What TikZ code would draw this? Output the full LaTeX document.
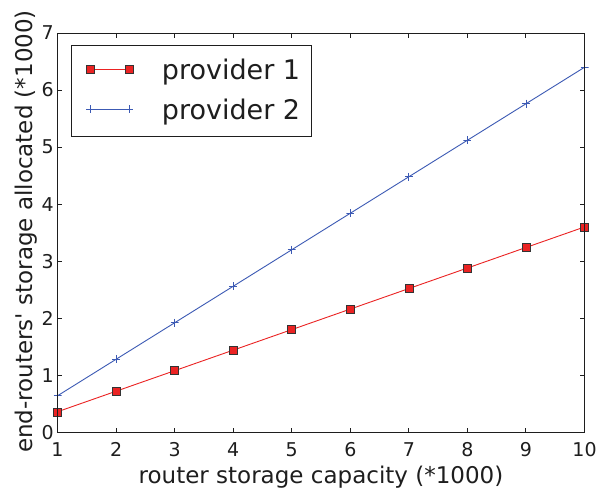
\documentclass[tikz,border=0pt]{standalone}
\usepackage{fontspec}
\newfontfamily\dvs{DejaVu Sans}
\definecolor{pred}{RGB}{235,35,35}
\definecolor{pblue}{RGB}{60,90,180}
\definecolor{axcol}{RGB}{30,30,30}
\tikzset{
  axisline/.style={draw=axcol, line width=1pt},
  ticklab/.style={inner sep=0pt, font=\dvs\fontsize{19}{22}\selectfont, text=axcol},
  axlab/.style={inner sep=0pt, font=\dvs\fontsize{23}{27}\selectfont, text=axcol},
  leglab/.style={inner sep=0pt, font=\dvs\fontsize{27}{32}\selectfont, text=axcol, anchor=base west},
  sqmark/.style={draw=black!80, fill=pred, line width=0.5pt, minimum size=8pt, inner sep=0pt, rectangle},
  plmark/.style={inner sep=0pt, minimum size=8pt, path picture={\draw[pblue, line width=0.8pt] (path picture bounding box.west) -- (path picture bounding box.east) (path picture bounding box.north) -- (path picture bounding box.south);}},
  redline/.style={draw=pred, line width=0.9pt},
  blueline/.style={draw=pblue, line width=0.9pt},
}
\begin{document}
\begin{tikzpicture}[x=1pt,y=1pt]
\useasboundingbox (0,0) rectangle (605,489);
\fill[white] (0,0) rectangle (605,489);
\begin{scope}[shift={(-1.06pt,56.7pt)}, x=58.56pt, y=57.04pt]
  % data lines
  \foreach \i in {1,...,10} {
    \coordinate (a\i) at (\i,{0.36*\i});
    \coordinate (b\i) at (\i,{0.64*\i});
  }
  \draw[blueline] (b1) -- (b2) -- (b3) -- (b4) -- (b5) -- (b6) -- (b7) -- (b8) -- (b9) -- (b10);
  \draw[redline] (a1) -- (a2) -- (a3) -- (a4) -- (a5) -- (a6) -- (a7) -- (a8) -- (a9) -- (a10);
  \foreach \i in {1,...,10} {
    \node[plmark] (bm\i) at (b\i) {};
    \node[sqmark] (am\i) at (a\i) {};
  }
  % frame and ticks
  \draw[axisline] (1,0) rectangle (10,7);
  \foreach \i in {1,...,10} {
    \draw[axisline] (\i,0) -- ++(0,4.5pt);
    \draw[axisline] (\i,7) -- ++(0,-4.5pt);
    \node[ticklab, anchor=north] (xt\i) at ([yshift=-10pt]\i,0) {\i};
  }
  \foreach \j in {0,...,7} {
    \draw[axisline] (1,\j) -- ++(4.5pt,0);
    \draw[axisline] (10,\j) -- ++(-4.5pt,0);
    \node[ticklab, anchor=east] (yt\j) at ([xshift=-3.5pt]1,\j) {\j};
  }
\end{scope}
% axis labels
\node[axlab, anchor=base] (xlab) at (321,5) {router storage capacity (*1000)};
\node[axlab, anchor=base, rotate=90] (ylab) at (32,257.5) {end-routers' storage allocated (*1000)};
% legend
\draw[axisline, fill=white] (71,352.3) rectangle (311,443);
\coordinate (l1a) at (90,419.7);
\coordinate (l1b) at (129.3,419.7);
\coordinate (l2a) at (90,379.7);
\coordinate (l2b) at (129.3,379.7);
\draw[redline] (l1a) -- (l1b);
\node[sqmark] (lm1a) at (l1a) {};
\node[sqmark] (lm1b) at (l1b) {};
\draw[blueline] (l2a) -- (l2b);
\node[plmark] (lm2a) at (l2a) {};
\node[plmark] (lm2b) at (l2b) {};
\node[leglab] (leg1) at (161.7,409) {provider 1};
\node[leglab] (leg2) at (161.7,369) {provider 2};
\end{tikzpicture}
\end{document}
